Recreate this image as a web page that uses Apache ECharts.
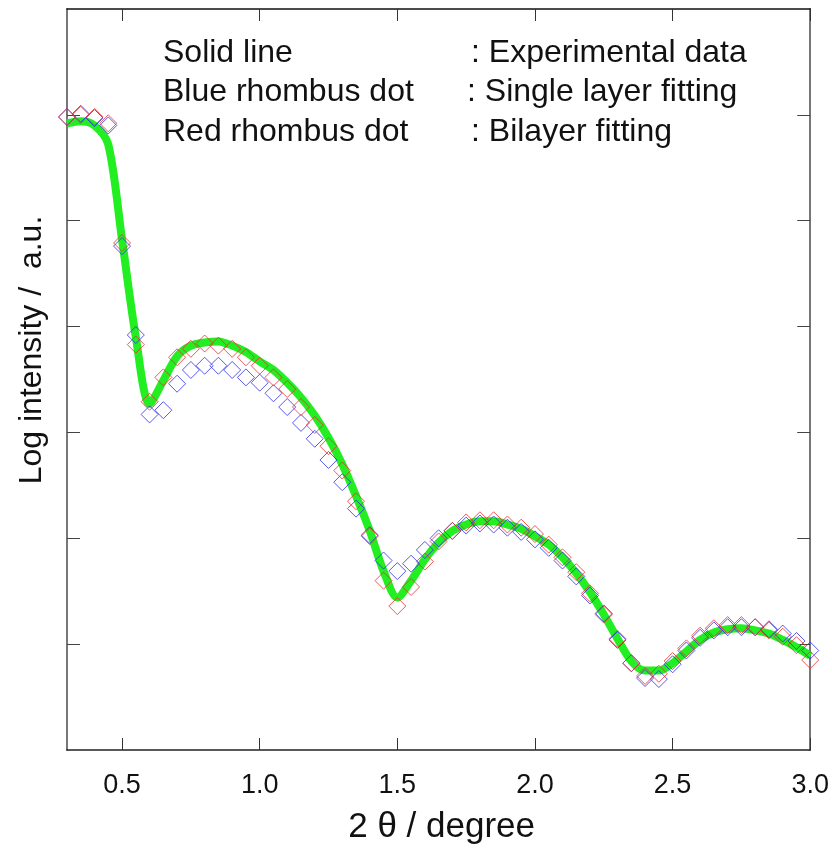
<!DOCTYPE html>
<html>
<head>
<meta charset="utf-8">
<script src="https://cdn.jsdelivr.net/npm/echarts@6/dist/echarts.min.js"></script>
<style>
  html, body { margin: 0; padding: 0; background: #fff; }
  #chart { width: 832px; height: 850px; }
</style>
</head>
<body>
<div id="chart"></div>
<script>
// 2 theta values (degree), same grid for all three curves
const twoTheta = [
  0.30, 0.35, 0.40, 0.45, 0.50, 0.55, 0.60, 0.65, 0.70, 0.75,
  0.80, 0.85, 0.90, 0.95, 1.00, 1.05, 1.10, 1.15, 1.20, 1.25,
  1.30, 1.35, 1.40, 1.45, 1.50, 1.55, 1.60, 1.65, 1.70, 1.75,
  1.80, 1.85, 1.90, 1.95, 2.00, 2.05, 2.10, 2.15, 2.20, 2.25,
  2.30, 2.35, 2.40, 2.45, 2.50, 2.55, 2.60, 2.65, 2.70, 2.75,
  2.80, 2.85, 2.90, 2.95, 3.00
]

// experimental data (green line)
const experimental = [
  5.92, 5.94, 5.90, 5.72, 4.82, 3.90, 3.27, 3.49, 3.72, 3.82,
  3.85, 3.86, 3.82, 3.76, 3.67, 3.59, 3.47, 3.33, 3.16, 2.95,
  2.70, 2.40, 2.07, 1.69, 1.44, 1.60, 1.80, 1.96, 2.07, 2.13,
  2.16, 2.16, 2.13, 2.09, 2.02, 1.94, 1.82, 1.67, 1.49, 1.28,
  1.05, 0.84, 0.75, 0.75, 0.82, 0.93, 1.04, 1.11, 1.14, 1.15,
  1.13, 1.10, 1.04, 0.97, 0.89
]

// single layer fitting (blue rhombus)
const singleLayer = [
  5.98, 6.01, 5.97, 5.90, 4.76, 3.92, 3.17, 3.21, 3.46, 3.59,
  3.63, 3.63, 3.59, 3.52, 3.47, 3.37, 3.24, 3.09, 2.94, 2.74,
  2.53, 2.28, 2.03, 1.79, 1.69, 1.76, 1.89, 2.00, 2.07, 2.12,
  2.14, 2.13, 2.10, 2.06, 1.99, 1.91, 1.79, 1.64, 1.46, 1.29,
  1.04, 0.82, 0.68, 0.67, 0.81, 0.94, 1.06, 1.13, 1.16, 1.16,
  1.16, 1.14, 1.10, 1.03, 0.94
]

// bilayer fitting (red rhombus)
const bilayer = [
  5.98, 6.00, 5.98, 5.92, 4.79, 3.83, 3.29, 3.52, 3.71, 3.79,
  3.84, 3.82, 3.79, 3.71, 3.63, 3.52, 3.41, 3.24, 3.07, 2.87,
  2.64, 2.35, 2.02, 1.60, 1.36, 1.54, 1.78, 1.97, 2.07, 2.15,
  2.17, 2.17, 2.13, 2.10, 2.04, 1.94, 1.82, 1.68, 1.48, 1.28,
  1.05, 0.82, 0.70, 0.72, 0.84, 0.96, 1.08, 1.15, 1.18, 1.18,
  1.16, 1.13, 1.07, 0.99, 0.85
]

const xTicks = [0.5, 1.0, 1.5, 2.0, 2.5, 3.0]
const yTicks = [1, 2, 3, 4, 5, 6]

const noteLabels = ['Solid line', 'Blue rhombus dot', 'Red rhombus dot']
const noteDescs = [': Experimental data', ': Single layer fitting', ': Bilayer fitting']

const xTitle = '2 θ / degree'
const yTitle = 'Log intensity /  a.u.'

const FONT = 'Arial, "Liberation Sans", sans-serif'

const pair = (ys) => twoTheta.map((x, i) => [x, ys[i]])

const chart = echarts.init(document.getElementById('chart'), null, { renderer: 'canvas' })

function xAxisBase(pos, showLabel) {
  return {
    type: 'value',
    position: pos,
    min: 0.3,
    max: 3.0,
    splitLine: { show: false },
    axisLine: { show: true, onZero: false, lineStyle: { color: '#222', width: 1.5 } },
    axisTick: {
      show: true,
      inside: true,
      length: 12,
      customValues: xTicks,
      lineStyle: { color: '#333', width: 1 }
    },
    axisLabel: {
      show: showLabel,
      customValues: xTicks,
      formatter: (v) => v.toFixed(1),
      margin: 22,
      fontSize: 27,
      fontFamily: FONT,
      color: '#111'
    }
  }
}

function yAxisBase(pos) {
  return {
    type: 'value',
    position: pos,
    min: 0,
    max: 7,
    splitLine: { show: false },
    axisLine: { show: true, onZero: false, lineStyle: { color: '#777', width: 2 } },
    axisTick: {
      show: true,
      inside: true,
      length: 13,
      customValues: yTicks,
      lineStyle: { color: '#444', width: 1 }
    },
    axisLabel: { show: false }
  }
}

const xBottom = xAxisBase('bottom', true)
xBottom.name = xTitle
xBottom.nameLocation = 'middle'
xBottom.nameGap = 60
xBottom.nameTextStyle = { fontSize: 35, fontFamily: FONT, color: '#111', padding: [0, 0, 0, 6] }

const xTop = xAxisBase('top', false)
xTop.axisLine.lineStyle = { color: '#111', width: 1.5 }

const graphic = []
noteLabels.forEach((t, i) => {
  const top = 37 + i * 39.5
  graphic.push({
    type: 'text', left: 163, top: top,
    style: { text: t, fontSize: 32, fontFamily: FONT, fill: '#111' }
  })
  graphic.push({
    type: 'text', left: i === 1 ? 467 : 471, top: top,
    style: { text: noteDescs[i], fontSize: 32, fontFamily: FONT, fill: '#111' }
  })
})
graphic.push({
  type: 'text',
  x: 32, y: 350,
  rotation: Math.PI / 2,
  style: {
    text: yTitle, fontSize: 32, fontFamily: FONT, fill: '#111',
    align: 'center', verticalAlign: 'middle'
  }
})

const diamond = (color) => ({
  type: 'scatter',
  symbol: 'diamond',
  symbolSize: 17,
  itemStyle: { color: 'rgba(0,0,0,0)', borderColor: color, borderWidth: 1 },
  emphasis: { disabled: true },
  z: 3
})

const option = {
  animation: false,
  backgroundColor: '#fff',
  grid: { left: 67, right: 20, top: 9, bottom: 98, containLabel: false },
  xAxis: [xBottom, xTop],
  yAxis: [yAxisBase('left'), yAxisBase('right')],
  graphic,
  series: [
    {
      name: 'Experimental data',
      type: 'line',
      data: pair(experimental),
      smooth: 0.3,
      showSymbol: false,
      lineStyle: { color: '#22ee22', width: 8 },
      z: 2
    },
    Object.assign(diamond('#3030ee'), { name: 'Single layer fitting', data: pair(singleLayer) }),
    Object.assign(diamond('#ee3030'), { name: 'Bilayer fitting', data: pair(bilayer) })
  ]
}

chart.setOption(option)
</script>
</body>
</html>
